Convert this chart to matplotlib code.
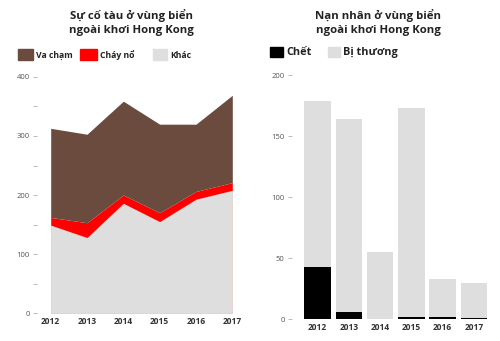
import matplotlib
matplotlib.use("Agg")
import matplotlib.pyplot as plt
import numpy as np
from matplotlib.patches import Rectangle

plt.rcParams["font.family"] = ["Open Sans", "DejaVu Sans"]
TITLE_FONT = ["Open Sans", "DejaVu Sans"]

# left chart: incidents by type (stacked)
years = [2012, 2013, 2014, 2015, 2016, 2017]
khac = [149, 128, 186, 155, 193, 208]
chay_no = [13, 25, 14, 15, 13, 13]
va_cham = [151, 150, 159, 150, 114, 148]

# right chart: casualties (stacked bars)
chet = [43, 6, 0, 2, 2, 1]
bi_thuong = [136, 158, 55, 171, 31, 29]

BROWN = "#6b4b3e"
RED = "#ff0000"
GREY = "#dedede"
TICK = "#b0b0b0"
LABEL = "#555555"

fig = plt.figure(figsize=(5, 3.41), dpi=100)

# ---- left: area chart
a1 = fig.add_axes([0.1014, 0.0821, 0.3632, 0.6921])
x = np.array(years)
b1 = np.array(khac)
b2 = b1 + np.array(chay_no)
b3 = b2 + np.array(va_cham)
a1.fill_between(x, 0, b1, color=GREY, edgecolor="#ecc9c9", linewidth=0.6)
a1.fill_between(x, b1, b2, color=RED, linewidth=0)
a1.fill_between(x, b2, b3, color=BROWN, linewidth=0)
a1.set_xlim(2012, 2017)
a1.set_ylim(0, 400)
a1.set_yticks([0, 100, 200, 300, 400])
a1.set_yticks([50, 150, 250, 350], minor=True)
a1.set_xticks(years)

# ---- right: stacked bars
a2 = fig.add_axes([0.604, 0.0636, 0.375, 0.7156])
pos = np.arange(len(years))
a2.bar(pos, chet, width=0.85, color="black", linewidth=0)
a2.bar(pos, bi_thuong, bottom=chet, width=0.85, color=GREY, linewidth=0)
a2.set_xlim(-0.5, 5.5)
a2.set_ylim(0, 200)
a2.set_yticks([0, 50, 100, 150, 200])
a2.set_xticks(pos)

for ax, off in ((a1, 10), (a2, 7.5)):
    ax.set_xticklabels([str(y) for y in years], fontsize=6, fontweight="bold",
                       color="#333333")
    for s in ("top", "right", "bottom"):
        ax.spines[s].set_visible(False)
    ax.spines["left"].set_position(("outward", off))
    ax.spines["left"].set_visible(False)
    ax.tick_params(axis="y", which="both", length=3, width=0.6, color=TICK,
                   labelsize=5.5, labelcolor=LABEL, pad=2)
    ax.tick_params(axis="x", length=0, pad=3)

# titles
fig.text(0.262, 0.975, "Sự cố tàu ở vùng biển\nngoài khơi Hong Kong",
         ha="center", va="top", fontsize=8.2, fontweight="bold",
         family=TITLE_FONT, color="#222222", linespacing=1.4)
fig.text(0.756, 0.975, "Nạn nhân ở vùng biển\nngoài khơi Hong Kong",
         ha="center", va="top", fontsize=8.2, fontweight="bold",
         family=TITLE_FONT, color="#222222", linespacing=1.4)

# legends
def legend_item(xp, yp, w, color, label, fs):
    fig.patches.append(Rectangle((xp, yp - 0.013), w, 0.03, color=color,
                                 transform=fig.transFigure, figure=fig))
    fig.text(xp + w + 0.006, yp, label, ha="left", va="center", fontsize=fs,
             fontweight="bold", family=TITLE_FONT, color="#222222")

legend_item(0.036, 0.838, 0.03, BROWN, "Va chạm", 6.2)
legend_item(0.160, 0.838, 0.034, RED, "Cháy nổ", 6.2)
legend_item(0.306, 0.838, 0.028, GREY, "Khác", 6.2)
legend_item(0.540, 0.845, 0.026, "black", "Chết", 7.8)
legend_item(0.656, 0.845, 0.024, GREY, "Bị thương", 7.8)

fig.savefig("out.png", dpi=100)
